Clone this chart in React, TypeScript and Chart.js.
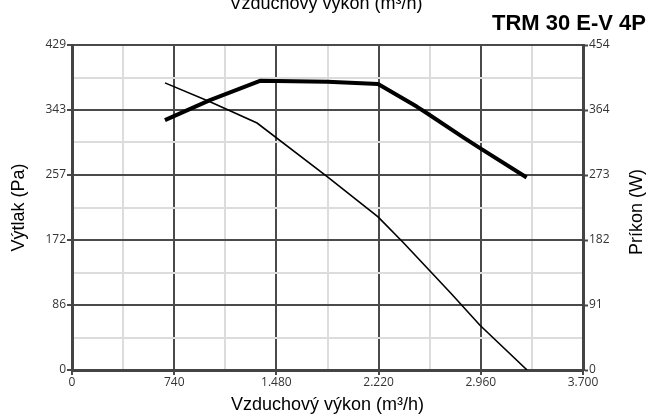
import React, { useEffect, useRef } from "react";
import { Chart, registerables } from "chart.js";

Chart.register(...registerables);

// Pressure curve (left axis, Pa) vs airflow (m³/h)
const flowPressure = [673, 999, 1340, 1850, 2216, 2400, 2740, 2954, 3295];
const pressurePa = [379, 354, 326, 255, 202, 168, 102, 59, 0];

// Power curve (right axis, W) vs airflow (m³/h)
const flowPower = [673, 999, 1361, 1850, 2216, 2496, 2568, 2833, 2954, 3292];
const powerW = [349, 377, 404, 402.5, 399.5, 368, 359, 325, 310, 269];

const xTickLabels = ["0", "740", "1.480", "2.220", "2.960", "3.700"];
const leftTickLabels = ["0", "86", "172", "257", "343", "429"];
const rightTickLabels = ["0", "91", "182", "273", "364", "454"];

const xMax = 3700;
const leftMax = 429;
const rightMax = 454;

const xTitle = "Vzduchový výkon (m³/h)";
const leftTitle = "Výtlak (Pa)";
const rightTitle = "Príkon (W)";
const chartTitle = "TRM 30 E-V 4P";

const TITLE_FONT = "'Liberation Sans', Arial, sans-serif";
const TICK_FONT = "'Open Sans', 'DejaVu Sans', sans-serif";
const MAJOR = "#4a4a4a";
const MINOR = "#dcdcdc";

const buildTicks = (max: number) => (scale: any) => {
  const t = [];
  for (let i = 0; i <= 10; i++) t.push({ value: (i * max) / 10 });
  scale.ticks = t;
};

const gridColor = (ctx: any) => (ctx.index % 2 === 0 ? MAJOR : MINOR);
const tickColor = (ctx: any) => (ctx.index % 2 === 0 ? MAJOR : "rgba(0,0,0,0)");

const extraText = {
  id: "extraText",
  afterDraw(chart: any) {
    const ctx = chart.ctx;
    ctx.save();
    ctx.fillStyle = "#000";
    // clipped top axis title
    ctx.font = `18px ${TITLE_FONT}`;
    ctx.textAlign = "center";
    ctx.textBaseline = "alphabetic";
    ctx.fillText(xTitle, 326, 9);
    // model title
    ctx.font = `bold 22px ${TITLE_FONT}`;
    ctx.textAlign = "right";
    ctx.fillText(chartTitle, 646, 30);
    // right axis title, reading bottom-to-top
    ctx.font = `18px ${TITLE_FONT}`;
    ctx.translate(637, 212);
    ctx.rotate(-Math.PI / 2);
    ctx.textAlign = "center";
    ctx.textBaseline = "middle";
    ctx.fillText(rightTitle, 0, 0);
    ctx.restore();
  },
};

export default function App() {
  const ref = useRef<HTMLCanvasElement | null>(null);

  useEffect(() => {
    document.body.style.margin = "0";
    const canvas = ref.current;
    if (!canvas) return;
    const chart = new Chart(canvas, {
      type: "line",
      data: {
        datasets: [
          {
            label: "Výtlak",
            data: flowPressure.map((x, i) => ({ x, y: pressurePa[i] })),
            borderColor: "#000",
            borderWidth: 1.6,
            pointRadius: 0,
            tension: 0,
            yAxisID: "y",
          },
          {
            label: "Príkon",
            data: flowPower.map((x, i) => ({ x, y: powerW[i] })),
            borderColor: "#000",
            borderWidth: 4,
            pointRadius: 0,
            tension: 0,
            borderJoinStyle: "round",
            yAxisID: "y2",
          },
        ],
      },
      options: {
        responsive: false,
        animation: false,
        layout: { padding: { top: 45, left: 0, right: 0, bottom: 0 } },
        plugins: { legend: { display: false }, tooltip: { enabled: false }, title: { display: false } },
        scales: {
          x: {
            type: "linear",
            position: "bottom",
            min: 0,
            max: xMax,
            offset: false,
            afterBuildTicks: buildTicks(xMax),
            afterFit: (s: any) => {
              s.height = 46;
            },
            ticks: {
              autoSkip: false,
              maxRotation: 0,
              padding: 0,
              color: "#333",
              font: { family: TICK_FONT, size: 12 },
              callback: (_v: any, i: number) => (i % 2 === 0 ? xTickLabels[i / 2] : ""),
            },
            grid: {
              color: gridColor,
              lineWidth: 2,
              tickColor: tickColor,
              tickLength: 5,
              tickWidth: 2,
            },
            border: { display: true, color: "#444", width: 3 },
            title: {
              display: true,
              text: xTitle,
              color: "#000",
              font: { family: TITLE_FONT, size: 18 },
              padding: { top: 5, bottom: 0 },
            },
          },
          y: {
            type: "linear",
            position: "left",
            min: 0,
            max: leftMax,
            afterBuildTicks: buildTicks(leftMax),
            afterFit: (s: any) => {
              s.width = 72;
            },
            ticks: {
              autoSkip: false,
              padding: 1,
              color: "#333",
              font: { family: TICK_FONT, size: 12 },
              callback: (_v: any, i: number) => (i % 2 === 0 ? leftTickLabels[i / 2] : ""),
            },
            grid: {
              color: gridColor,
              lineWidth: 2,
              tickColor: tickColor,
              tickLength: 5,
              tickWidth: 2,
            },
            border: { display: true, color: "#444", width: 3 },
            title: {
              display: true,
              text: leftTitle,
              color: "#000",
              font: { family: TITLE_FONT, size: 18 },
              padding: { top: 8, bottom: 0 },
            },
          },
          y2: {
            type: "linear",
            position: "right",
            min: 0,
            max: rightMax,
            afterBuildTicks: buildTicks(rightMax),
            afterFit: (s: any) => {
              s.width = 68;
            },
            ticks: {
              autoSkip: false,
              padding: 1,
              color: "#333",
              font: { family: TICK_FONT, size: 12 },
              callback: (_v: any, i: number) => (i % 2 === 0 ? rightTickLabels[i / 2] : ""),
            },
            grid: {
              drawOnChartArea: false,
              tickColor: tickColor,
              tickLength: 5,
              tickWidth: 2,
            },
            border: { display: true, color: "#444", width: 3 },
          },
        },
      },
      plugins: [extraText],
    } as any);
    return () => chart.destroy();
  }, []);

  return (
    <div style={{ position: "absolute", left: 0, top: 0, width: 651, height: 416, background: "#fff" }}>
      <canvas ref={ref} width={651} height={416} style={{ display: "block" }} />
    </div>
  );
}
